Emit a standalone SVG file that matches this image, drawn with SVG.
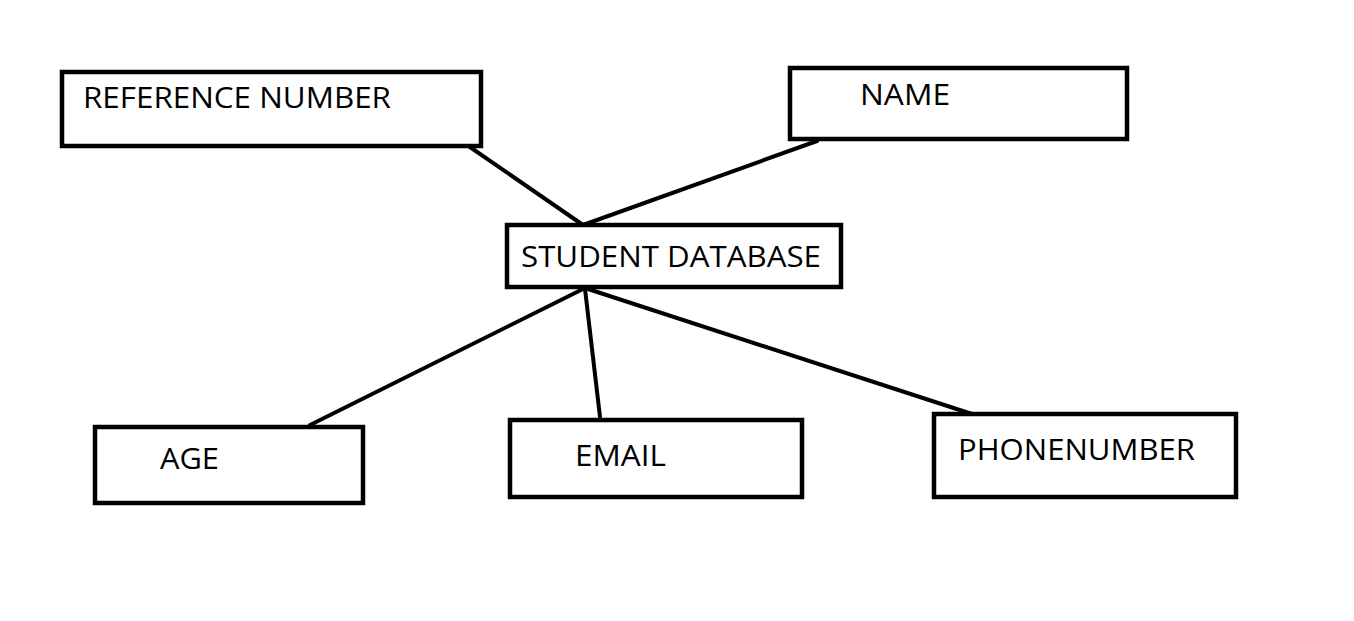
<svg xmlns="http://www.w3.org/2000/svg" width="1354" height="621" viewBox="0 0 1354 621">
<style>
.box{fill:#fff;stroke:#000;stroke-width:4.5;stroke-linejoin:miter}
.lbl{font-family:"Open Sans","Liberation Sans",sans-serif;font-size:29px;fill:#000}
.edge{stroke:#000;stroke-width:4;stroke-linecap:round;fill:none}
</style>
<rect width="1354" height="621" fill="#fff"/>
<g id="connectors">
<line class="edge" x1="467" y1="145" x2="583" y2="225"/>
<line class="edge" x1="817" y1="141" x2="583" y2="225"/>
<line class="edge" x1="583" y1="289" x2="310" y2="425"/>
<line class="edge" x1="585" y1="289" x2="600" y2="417"/>
<line class="edge" x1="588" y1="289" x2="972" y2="414"/>
</g>
<g id="reference-number">
<rect class="box" x="62" y="72" width="419" height="74"/>
<text class="lbl" x="83" y="108" textLength="308" lengthAdjust="spacingAndGlyphs">REFERENCE NUMBER</text>
</g>
<g id="name">
<rect class="box" x="790" y="68" width="337" height="71"/>
<text class="lbl" x="860" y="105" textLength="90" lengthAdjust="spacingAndGlyphs">NAME</text>
</g>
<g id="student-database">
<rect class="box" x="507" y="225" width="334" height="62"/>
<text class="lbl" x="521" y="267" textLength="300" lengthAdjust="spacingAndGlyphs">STUDENT DATABASE</text>
</g>
<g id="age">
<rect class="box" x="95" y="427" width="268" height="76"/>
<text class="lbl" x="160" y="469" textLength="59" lengthAdjust="spacingAndGlyphs">AGE</text>
</g>
<g id="email">
<rect class="box" x="510" y="420" width="292" height="77"/>
<text class="lbl" x="575" y="466" textLength="91" lengthAdjust="spacingAndGlyphs">EMAIL</text>
</g>
<g id="phonenumber">
<rect class="box" x="934" y="414" width="302" height="83"/>
<text class="lbl" x="958" y="460" textLength="237" lengthAdjust="spacingAndGlyphs">PHONENUMBER</text>
</g>
</svg>
